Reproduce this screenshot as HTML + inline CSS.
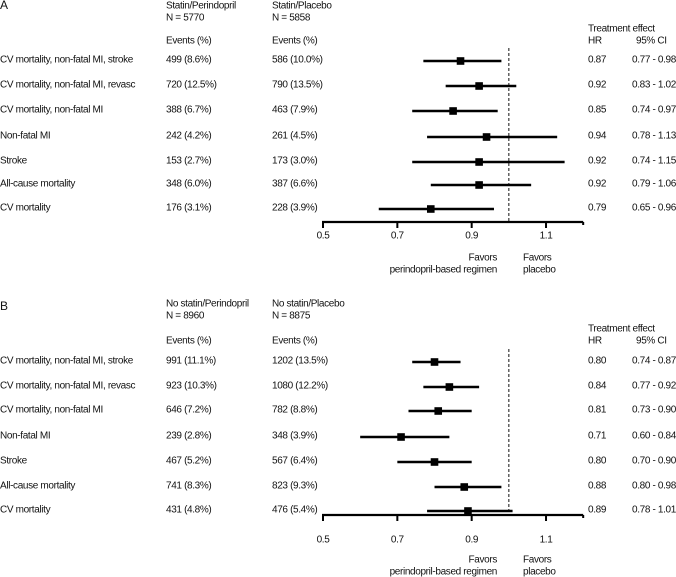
<!DOCTYPE html>
<html><head><meta charset="utf-8">
<style>
html,body{margin:0;padding:0;background:#fff;}
svg{display:block;font-family:"Liberation Sans",sans-serif;font-size:10px;letter-spacing:-0.35px;fill:#111;}
</style></head>
<body>
<svg id="chart" width="676" height="577" viewBox="0 0 676 577" xmlns="http://www.w3.org/2000/svg"></svg>
<script>
const outcomes = ["CV mortality, non-fatal MI, stroke","CV mortality, non-fatal MI, revasc","CV mortality, non-fatal MI","Non-fatal MI","Stroke","All-cause mortality","CV mortality"];
const tickLabels = ["0.5","0.7","0.9","1.1"];
const tickValues = [0.5,0.7,0.9,1.1];
const hrA = [0.87,0.92,0.85,0.94,0.92,0.92,0.79];
const loA = [0.77,0.83,0.74,0.78,0.74,0.79,0.65];
const hiA = [0.98,1.02,0.97,1.13,1.15,1.06,0.96];
const hrB = [0.80,0.84,0.81,0.71,0.80,0.88,0.89];
const loB = [0.74,0.77,0.73,0.60,0.70,0.80,0.78];
const hiB = [0.87,0.92,0.90,0.84,0.90,0.98,1.01];
const evPerA = ["499 (8.6%)","720 (12.5%)","388 (6.7%)","242 (4.2%)","153 (2.7%)","348 (6.0%)","176 (3.1%)"];
const evPlaA = ["586 (10.0%)","790 (13.5%)","463 (7.9%)","261 (4.5%)","173 (3.0%)","387 (6.6%)","228 (3.9%)"];
const evPerB = ["991 (11.1%)","923 (10.3%)","646 (7.2%)","239 (2.8%)","467 (5.2%)","741 (8.3%)","431 (4.8%)"];
const evPlaB = ["1202 (13.5%)","1080 (12.2%)","782 (8.8%)","348 (3.9%)","567 (6.4%)","823 (9.3%)","476 (5.4%)"];

const svg = document.getElementById('chart');
const NS = 'http://www.w3.org/2000/svg';
function xs(v){ return 323 + (v - 0.5) * 371.7; }
function mk(tag, attrs, parent){
  const e = document.createElementNS(NS, tag);
  for (const k in attrs) e.setAttribute(k, attrs[k]);
  (parent || svg).appendChild(e);
  return e;
}
function txt(x, y, s, parent, anchor){
  const t = mk('text', {x:x, y:y, 'dominant-baseline':'middle', 'text-anchor':anchor||'start'}, parent);
  t.textContent = s;
  return t;
}

function panel(cfg){
  const g = mk('g', {});
  
  
  const pl = txt(0, cfg.titleY, cfg.id.toUpperCase(), g);
  
  
  pl.setAttribute('font-size', '12');
  const h1 = txt(166, cfg.h1Y, cfg.g1, g);
  
  
  const n1 = txt(166, cfg.h1Y + 12, cfg.n1, g);
  
  
  const h2 = txt(272, cfg.h1Y, cfg.g2, g);
  
  
  const n2 = txt(272, cfg.h1Y + 12, cfg.n2, g);
  
  
  const e1 = txt(166, cfg.evY, 'Events (%)', g);
  
  
  const e2 = txt(272, cfg.evY, 'Events (%)', g);
  
  
  const te = txt(588, cfg.evY - 12, 'Treatment effect', g);
  
  
  const hr = txt(588, cfg.evY, 'HR', g);
  
  
  const ci = txt(636, cfg.evY, '95% CI', g);
  
  

  // reference line
  const ref = mk('line', {x1:xs(1), x2:xs(1), y1:cfg.refTop, y2:cfg.axisY, stroke:'#111', 'stroke-width':1, 'stroke-dasharray':'3,2'}, g);
  
  

  for (let i = 0; i < outcomes.length; i++){
    const y = cfg.rows[i];
    const lab = txt(0, y, outcomes[i], g);
    
    
    const a = txt(166, y, cfg.ev1[i], g);
    
    
    const b = txt(272, y, cfg.ev2[i], g);
    
    
    const h = txt(588, y, cfg.hr[i].toFixed(2), g);
    
    
    const c = txt(632, y, cfg.lo[i].toFixed(2) + ' - ' + cfg.hi[i].toFixed(2), g);
    
    
    const l = mk('line', {x1:xs(cfg.lo[i]), x2:xs(cfg.hi[i]), y1:y+1, y2:y+1, stroke:'#000', 'stroke-width':2.6}, g);
    
    
    const s = mk('rect', {x:xs(cfg.hr[i])-3.8, y:y+1-3.8, width:7.6, height:7.6, fill:'#000'}, g);
    
    
  }

  // axis
  const ax = mk('line', {x1:xs(0.5)-1, x2:xs(1.2), y1:cfg.axisY, y2:cfg.axisY, stroke:'#000', 'stroke-width':2.2}, g);
  
  
  for (let i = 0; i < tickValues.length; i++){
    const tk = mk('line', {x1:xs(tickValues[i]), x2:xs(tickValues[i]), y1:cfg.axisY, y2:cfg.axisY+6, stroke:'#000', 'stroke-width':2}, g);
    
    
    const tl = txt(xs(tickValues[i]), cfg.tickY, tickLabels[i], g, 'middle');
    
    
  }
  const endTick = mk('line', {x1:xs(1.2), x2:xs(1.2), y1:cfg.axisY, y2:cfg.axisY+3, stroke:'#000', 'stroke-width':2}, g);
  
  
  const f1 = txt(497, cfg.favY, 'Favors', g, 'end');
  
  
  const f2 = txt(497, cfg.favY + 12, 'perindopril-based regimen', g, 'end');
  
  
  const f3 = txt(523, cfg.favY, 'Favors', g);
  
  
  const f4 = txt(523, cfg.favY + 12, 'placebo', g);
  
  
}

panel({id:'a', titleY:6, h1Y:6, evY:41, g1:'Statin/Perindopril', n1:'N = 5770', g2:'Statin/Placebo', n2:'N = 5858',
  rows:[60,85,110,136,161,184,208], refTop:48, axisY:222, tickY:236, favY:258,
  hr:hrA, lo:loA, hi:hiA, ev1:evPerA, ev2:evPlaA});
panel({id:'b', titleY:307, h1Y:304, evY:341, g1:'No statin/Perindopril', n1:'N = 8960', g2:'No statin/Placebo', n2:'N = 8875',
  rows:[361,386,410,436,461,486,510], refTop:349, axisY:515, tickY:540, favY:560,
  hr:hrB, lo:loB, hi:hiB, ev1:evPerB, ev2:evPlaB});
</script>
</body></html>
